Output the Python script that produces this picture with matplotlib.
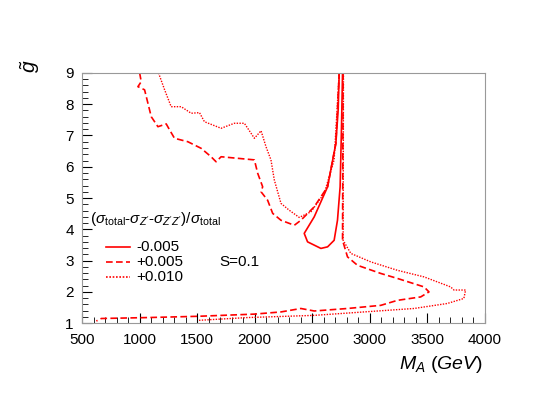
import matplotlib
matplotlib.use("Agg")
import matplotlib.pyplot as plt
from matplotlib.ticker import MultipleLocator

plt.rcParams['font.family'] = ['Liberation Sans', 'DejaVu Sans']
plt.rcParams['mathtext.fontset'] = 'custom'
plt.rcParams['mathtext.rm'] = 'Liberation Sans'
plt.rcParams['mathtext.it'] = 'Liberation Sans:italic'

solid_x = [2734, 2725, 2705, 2633, 2517, 2430, 2459, 2575, 2633, 2690, 2719, 2742, 2754, 2763]
solid_y = [9.0, 7.82, 6.75, 5.36, 4.40, 3.87, 3.60, 3.39, 3.44, 3.65, 4.29, 5.36, 7.28, 9.0]

dash_up_x = [1000, 1014, 985, 1043, 1072, 1101, 1159, 1231, 1260, 1303, 1419, 1534, 1621, 1664, 1708, 1852, 1997, 2026, 2069, 2055, 2112, 2156, 2228, 2344, 2401, 2517, 2633, 2705, 2734]
dash_up_y = [9.0, 8.72, 8.56, 8.46, 8.03, 7.60, 7.28, 7.37, 7.18, 6.91, 6.80, 6.59, 6.32, 6.16, 6.32, 6.27, 6.22, 5.79, 5.36, 5.2, 4.93, 4.51, 4.29, 4.13, 4.29, 4.72, 5.36, 6.75, 9.0]
dash_lo_x = [2768, 2763, 2806, 2893, 3095, 3240, 3471, 3514, 3442, 3240, 3095, 2806, 2517, 2401, 2228, 1997, 1505, 1072, 667, 624]
dash_lo_y = [9.0, 3.65, 3.12, 2.85, 2.59, 2.43, 2.16, 2.0, 1.84, 1.73, 1.57, 1.47, 1.39, 1.47, 1.36, 1.29, 1.22, 1.18, 1.15, 1.07]

dot_up_x = [1164, 1217, 1274, 1361, 1448, 1520, 1563, 1708, 1823, 1910, 1997, 2055, 2098, 2141, 2170, 2228, 2300, 2387, 2488, 2604, 2690, 2734]
dot_up_y = [9.0, 8.46, 7.92, 7.92, 7.71, 7.73, 7.44, 7.23, 7.39, 7.39, 6.91, 7.15, 6.64, 6.22, 5.58, 4.83, 4.61, 4.38, 4.56, 5.15, 6.22, 9.0]
dot_lo_x = [2771, 2768, 2835, 3008, 3240, 3471, 3702, 3731, 3832, 3817, 3673, 3384, 2950, 2517, 1939, 1505]
dot_lo_y = [9.0, 3.65, 3.23, 2.96, 2.69, 2.48, 2.16, 2.06, 2.06, 1.79, 1.63, 1.47, 1.36, 1.25, 1.18, 1.09]

red = "#ff0000"
fig = plt.figure(figsize=(5.4, 4.05), dpi=100)
ax = fig.add_axes([0.152, 0.202, 0.746, 0.618])
ax.plot(solid_x, solid_y, color=red, lw=1.2, ls="-")
ax.plot(dash_up_x, dash_up_y, color=red, lw=1.2, ls=(0, (4, 2)))
ax.plot(dash_lo_x, dash_lo_y, color=red, lw=1.2, ls=(0, (4, 2)))
ax.plot(dot_up_x, dot_up_y, color=red, lw=1.0, ls=(0, (1, 1)))
ax.plot(dot_lo_x, dot_lo_y, color=red, lw=1.0, ls=(0, (1, 1)))

ax.set_xlim(500, 4000)
ax.set_ylim(1, 9)
ax.xaxis.set_major_locator(MultipleLocator(500))
ax.xaxis.set_minor_locator(MultipleLocator(100))
ax.yaxis.set_major_locator(MultipleLocator(1))
ax.yaxis.set_minor_locator(MultipleLocator(0.2))
ax.tick_params(which="both", direction="in", labelsize=11)
ax.tick_params(axis="x", pad=7)
ax.tick_params(axis="y", pad=6)
ax.tick_params(which="major", length=7)
ax.tick_params(which="minor", length=4)
for s in ax.spines.values():
    s.set_color("#999999")

fig.text(0.895, 0.09, r"$M_A$ $(GeV)$", ha="right", fontsize=14)
fig.text(0.055, 0.82, r"$\tilde{g}$", ha="center", va="bottom", fontsize=15, rotation=90)

ax.text(0.02, 0.40, r"$(\sigma_{\rm total}$-$\sigma_{Z'}$-$\sigma_{Z'Z'})/\sigma_{\rm total}$",
        transform=ax.transAxes, fontsize=11)
lx = [0.06, 0.12]
labels = ["-0.005", "+0.005", "+0.010"]
styles = ["-", (0, (4, 2)), (0, (1, 1))]
ys = [0.305, 0.245, 0.185]
for lab, st, yy in zip(labels, styles, ys):
    ax.plot(lx, [yy, yy], transform=ax.transAxes, color=red, ls=st, lw=1.2)
    ax.text(0.135, yy, lab, transform=ax.transAxes, va="center", fontsize=11)
ax.text(0.34, 0.245, "S=0.1", transform=ax.transAxes, va="center", fontsize=11)

fig.savefig("out.png", dpi=100)
